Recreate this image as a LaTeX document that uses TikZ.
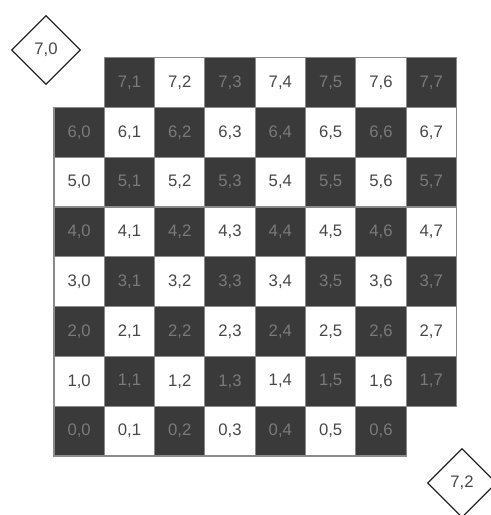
\documentclass[tikz,border=0pt]{standalone}
\usepackage{fontspec}
\setmainfont{Liberation Sans}
\usetikzlibrary{shapes.geometric}
\definecolor{boardDark}{HTML}{3A3A3A}
\definecolor{boardLine}{HTML}{8A8A8A}
\definecolor{labelColor}{HTML}{474747}
\definecolor{hiddenLabel}{HTML}{7A7A7A}

\begin{document}
\begin{tikzpicture}[x=0.02cm, y=-0.02cm, every node/.style={font=\fontsize{9.5}{11}\selectfont}]
	\tikzset{
		clara/.style={draw=boardLine, line width=0.6pt, fill=white, text=labelColor,
			minimum width=1.006cm, minimum height=0.996cm, inner sep=0pt},
		escura/.style={clara, fill=boardDark, text=hiddenLabel},
		losango/.style={diamond, draw=black!85, line width=0.7pt, text=labelColor,
			minimum width=1.38cm, minimum height=1.38cm, inner sep=0pt}
	}
	\useasboundingbox (0,0) rectangle (491,515);
	% tabuleiro sem as casas 7,0 e 0,7
	\foreach \r in {0,...,7}{
		\foreach \c in {0,...,7}{
			\pgfmathtruncatemacro{\cor}{mod(\r+\c,2)}
			\pgfmathtruncatemacro{\fora}{(\r==7 && \c==0) || (\r==0 && \c==7)}
			\ifnum\cor=0 \def\estilo{escura}\else\def\estilo{clara}\fi
			\ifnum\fora=0
				\node[\estilo] (c\r\c) at ({79.15+50.3*\c},{431.1-49.8*\r}) {\r,\c};
			\fi
		}
	}
	% pecas retiradas
	\node[losango] (d70) at (46,50) {7,0};
	\node[losango] (d72) at (462,483) {7,2};
\end{tikzpicture}
\end{document}
